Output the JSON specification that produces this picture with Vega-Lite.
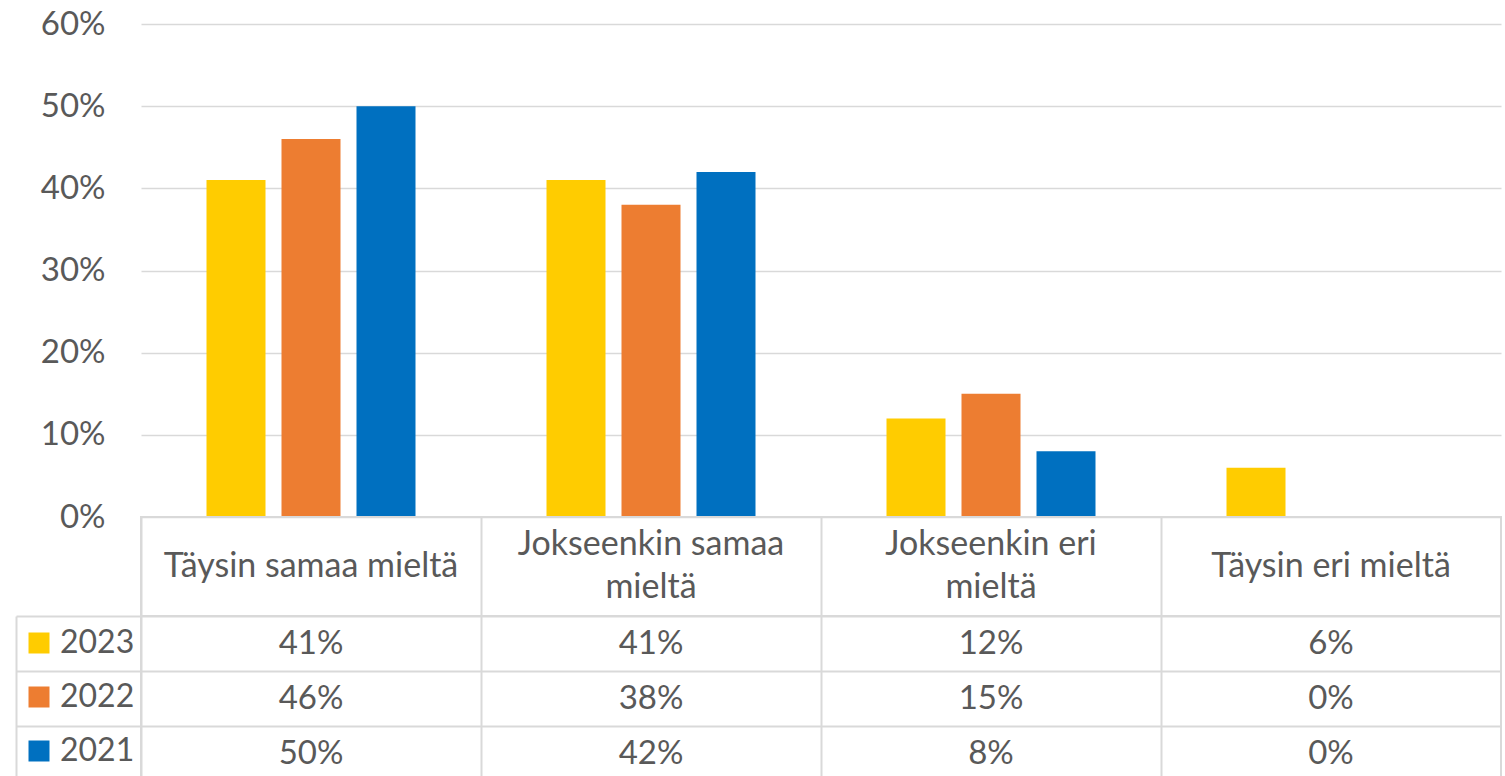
{
  "$schema": "https://vega.github.io/schema/vega-lite/v6.json",
  "padding": {"left": 14, "top": 8, "right": 0, "bottom": 0},
  "config": {"font": "Lato", "view": {"stroke": null}},
  "datasets": {
    "d": [
      {"cat": "Täysin samaa mieltä", "year": "2023", "value": 0.41},
      {"cat": "Täysin samaa mieltä", "year": "2022", "value": 0.46},
      {"cat": "Täysin samaa mieltä", "year": "2021", "value": 0.50},
      {"cat": "Jokseenkin samaa mieltä", "year": "2023", "value": 0.41},
      {"cat": "Jokseenkin samaa mieltä", "year": "2022", "value": 0.38},
      {"cat": "Jokseenkin samaa mieltä", "year": "2021", "value": 0.42},
      {"cat": "Jokseenkin eri mieltä", "year": "2023", "value": 0.12},
      {"cat": "Jokseenkin eri mieltä", "year": "2022", "value": 0.15},
      {"cat": "Jokseenkin eri mieltä", "year": "2021", "value": 0.08},
      {"cat": "Täysin eri mieltä", "year": "2023", "value": 0.06},
      {"cat": "Täysin eri mieltä", "year": "2022", "value": 0.0},
      {"cat": "Täysin eri mieltä", "year": "2021", "value": 0.0}
    ],
    "h": [
      {"cat": "Täysin samaa mieltä", "top": "", "mid": "Täysin samaa mieltä", "bottom": ""},
      {"cat": "Jokseenkin samaa mieltä", "top": "Jokseenkin samaa", "mid": "", "bottom": "mieltä"},
      {"cat": "Jokseenkin eri mieltä", "top": "Jokseenkin eri", "mid": "", "bottom": "mieltä"},
      {"cat": "Täysin eri mieltä", "top": "", "mid": "Täysin eri mieltä", "bottom": ""}
    ]
  },
  "spacing": 0,
  "bounds": "flush",
  "resolve": {
    "scale": {"x": "independent", "y": "independent", "color": "independent"},
    "axis": {"x": "independent", "y": "independent"},
    "legend": {"color": "independent"}
  },
  "vconcat": [
    {
      "width": 1360,
      "height": 493,
      "data": {"name": "d"},
      "mark": {"type": "bar"},
      "encoding": {
        "x": {"field": "cat", "type": "nominal", "sort": ["Täysin samaa mieltä", "Jokseenkin samaa mieltä", "Jokseenkin eri mieltä", "Täysin eri mieltä"], "scale": {"paddingInner": 0.3853, "paddingOuter": 0.19265}, "axis": null},
        "xOffset": {"field": "year", "type": "nominal", "sort": ["2023", "2022", "2021"], "scale": {"paddingInner": 0.2133, "paddingOuter": 0}},
        "y": {"field": "value", "type": "quantitative", "scale": {"domain": [0, 0.6], "nice": false},
          "axis": {"values": [0, 0.1, 0.2, 0.3, 0.4, 0.5, 0.6], "format": ".0%", "title": null, "domain": false, "ticks": false, "labelPadding": 36, "labelFontSize": 33, "labelColor": "#595959", "labelFont": "Lato", "gridColor": "#d9d9d9", "gridWidth": 1.5}},
        "color": {"field": "year", "type": "nominal", "sort": ["2023", "2022", "2021"],
          "scale": {"domain": ["2023", "2022", "2021"], "range": ["#FFCC00", "#ED7D31", "#0070C0"]},
          "legend": {"orient": "none", "legendX": -118, "legendY": 603, "direction": "vertical", "title": null, "symbolType": "square", "symbolSize": 441, "symbolStrokeWidth": 0, "labelFontSize": 32, "labelColor": "#595959", "labelFont": "Lato", "labelOffset": 5, "rowPadding": 22, "padding": 0}}
      }
    },
    {
      "width": 1360,
      "height": 99,
      "data": {"name": "h"},
      "view": {"stroke": "#d9d9d9", "strokeWidth": 2},
      "encoding": {
        "x": {"field": "cat", "type": "nominal", "sort": ["Täysin samaa mieltä", "Jokseenkin samaa mieltä", "Jokseenkin eri mieltä", "Täysin eri mieltä"], "scale": {"type": "band", "padding": 0},
          "axis": {"grid": true, "bandPosition": 0, "labels": false, "ticks": false, "domain": false, "title": null, "gridColor": "#d9d9d9", "gridWidth": 2}}
      },
      "layer": [
        {"mark": {"type": "text", "fontSize": 34, "color": "#595959", "font": "Lato", "baseline": "middle", "dy": -21.5}, "encoding": {"text": {"field": "top"}}},
        {"mark": {"type": "text", "fontSize": 34, "color": "#595959", "font": "Lato", "baseline": "middle"}, "encoding": {"text": {"field": "mid"}}},
        {"mark": {"type": "text", "fontSize": 34, "color": "#595959", "font": "Lato", "baseline": "middle", "dy": 21.5}, "encoding": {"text": {"field": "bottom"}}}
      ]
    },
    {
      "width": 1360,
      "height": 165,
      "data": {"name": "d"},
      "view": {"stroke": "#d9d9d9", "strokeWidth": 2},
      "mark": {"type": "text", "fontSize": 33, "color": "#595959", "font": "Lato", "baseline": "middle"},
      "encoding": {
        "x": {"field": "cat", "type": "nominal", "sort": ["Täysin samaa mieltä", "Jokseenkin samaa mieltä", "Jokseenkin eri mieltä", "Täysin eri mieltä"], "scale": {"type": "band", "padding": 0},
          "axis": {"grid": true, "bandPosition": 0, "labels": false, "ticks": false, "domain": false, "title": null, "gridColor": "#d9d9d9", "gridWidth": 2}},
        "y": {"field": "year", "type": "nominal", "sort": ["2023", "2022", "2021"], "scale": {"type": "band", "padding": 0},
          "axis": {"orient": "left", "offset": 125, "tickSize": -125, "bandPosition": 0, "grid": true, "labels": false, "title": null, "domainColor": "#d9d9d9", "domainWidth": 2, "tickColor": "#d9d9d9", "tickWidth": 2, "gridColor": "#d9d9d9", "gridWidth": 2}},
        "text": {"field": "value", "type": "quantitative", "format": ".0%"}
      }
    }
  ]
}
